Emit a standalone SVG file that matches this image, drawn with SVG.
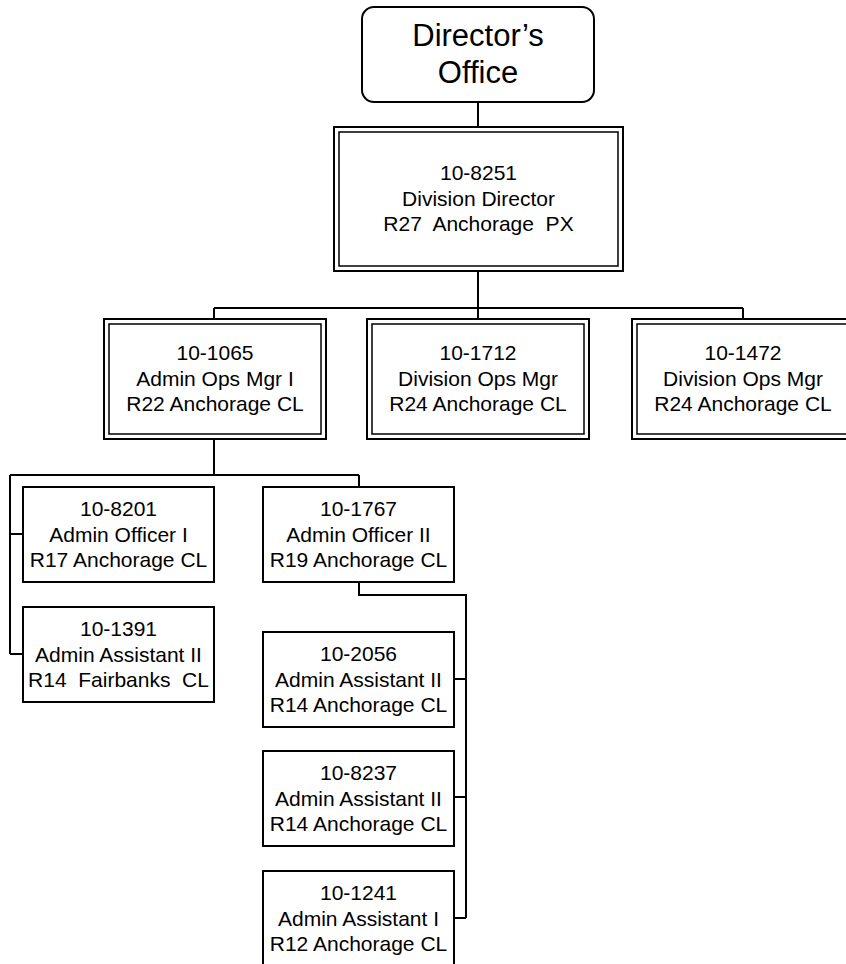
<svg xmlns="http://www.w3.org/2000/svg" width="846" height="964" viewBox="0 0 846 964">
<style>
text{font-family:"Liberation Sans",Arial,sans-serif;font-size:21px;fill:#000;text-anchor:middle;white-space:pre}
.big{font-size:31px}
.box{fill:#fff;stroke:#000;stroke-width:2}
.inner{fill:none;stroke:#000;stroke-width:1.5}
.conn{fill:none;stroke:#000;stroke-width:2}
</style>
<rect width="846" height="964" fill="#fff"/>
<g id="connectors">
<path class="conn" d="M478 102V127M478 271V319M214 308H743M214 308V319M743 308V319"/>
<path class="conn" d="M214 439V475M10 475H359M10 475V654M10 534H23M10 654H23M359 475V487"/>
<path class="conn" d="M359 582V595H466V918M454 679H466M454 797H466M454 918H466"/>
</g>
<g id="directors-office">
<rect class="box" x="362" y="7" width="232" height="95" rx="12"/>
<text class="big" x="478" y="46">Director’s</text>
<text class="big" x="478" y="83">Office</text>
</g>
<g id="n10-8251">
<rect class="box" x="334" y="127" width="289" height="144"/>
<rect class="inner" x="339" y="132" width="279" height="134"/>
<text x="478.5" y="180">10-8251</text>
<text x="478.5" y="206">Division Director</text>
<text x="478.5" y="231">R27  Anchorage  PX</text>
</g>
<g id="n10-1065">
<rect class="box" x="104" y="319" width="222" height="120"/>
<rect class="inner" x="109" y="324" width="212" height="110"/>
<text x="215" y="360">10-1065</text>
<text x="215" y="386">Admin Ops Mgr I</text>
<text x="215" y="411">R22 Anchorage CL</text>
</g>
<g id="n10-1712">
<rect class="box" x="367" y="319" width="222" height="120"/>
<rect class="inner" x="372" y="324" width="212" height="110"/>
<text x="478" y="360">10-1712</text>
<text x="478" y="386">Division Ops Mgr</text>
<text x="478" y="411">R24 Anchorage CL</text>
</g>
<g id="n10-1472">
<rect class="box" x="632" y="319" width="222" height="120"/>
<rect class="inner" x="637" y="324" width="212" height="110"/>
<text x="743" y="360">10-1472</text>
<text x="743" y="386">Division Ops Mgr</text>
<text x="743" y="411">R24 Anchorage CL</text>
</g>
<g id="n10-8201">
<rect class="box" x="23" y="487" width="191" height="95"/>
<text x="118.5" y="516">10-8201</text>
<text x="118.5" y="542">Admin Officer I</text>
<text x="118.5" y="567">R17 Anchorage CL</text>
</g>
<g id="n10-1391">
<rect class="box" x="23" y="607" width="191" height="95"/>
<text x="118.5" y="636">10-1391</text>
<text x="118.5" y="662">Admin Assistant II</text>
<text x="118.5" y="687">R14  Fairbanks  CL</text>
</g>
<g id="n10-1767">
<rect class="box" x="263" y="487" width="191" height="95"/>
<text x="358.5" y="516">10-1767</text>
<text x="358.5" y="542">Admin Officer II</text>
<text x="358.5" y="567">R19 Anchorage CL</text>
</g>
<g id="n10-2056">
<rect class="box" x="263" y="632" width="191" height="95"/>
<text x="358.5" y="661">10-2056</text>
<text x="358.5" y="687">Admin Assistant II</text>
<text x="358.5" y="712">R14 Anchorage CL</text>
</g>
<g id="n10-8237">
<rect class="box" x="263" y="751" width="191" height="95"/>
<text x="358.5" y="780">10-8237</text>
<text x="358.5" y="806">Admin Assistant II</text>
<text x="358.5" y="831">R14 Anchorage CL</text>
</g>
<g id="n10-1241">
<rect class="box" x="263" y="871" width="191" height="95"/>
<text x="358.5" y="900">10-1241</text>
<text x="358.5" y="926">Admin Assistant I</text>
<text x="358.5" y="951">R12 Anchorage CL</text>
</g>
</svg>
